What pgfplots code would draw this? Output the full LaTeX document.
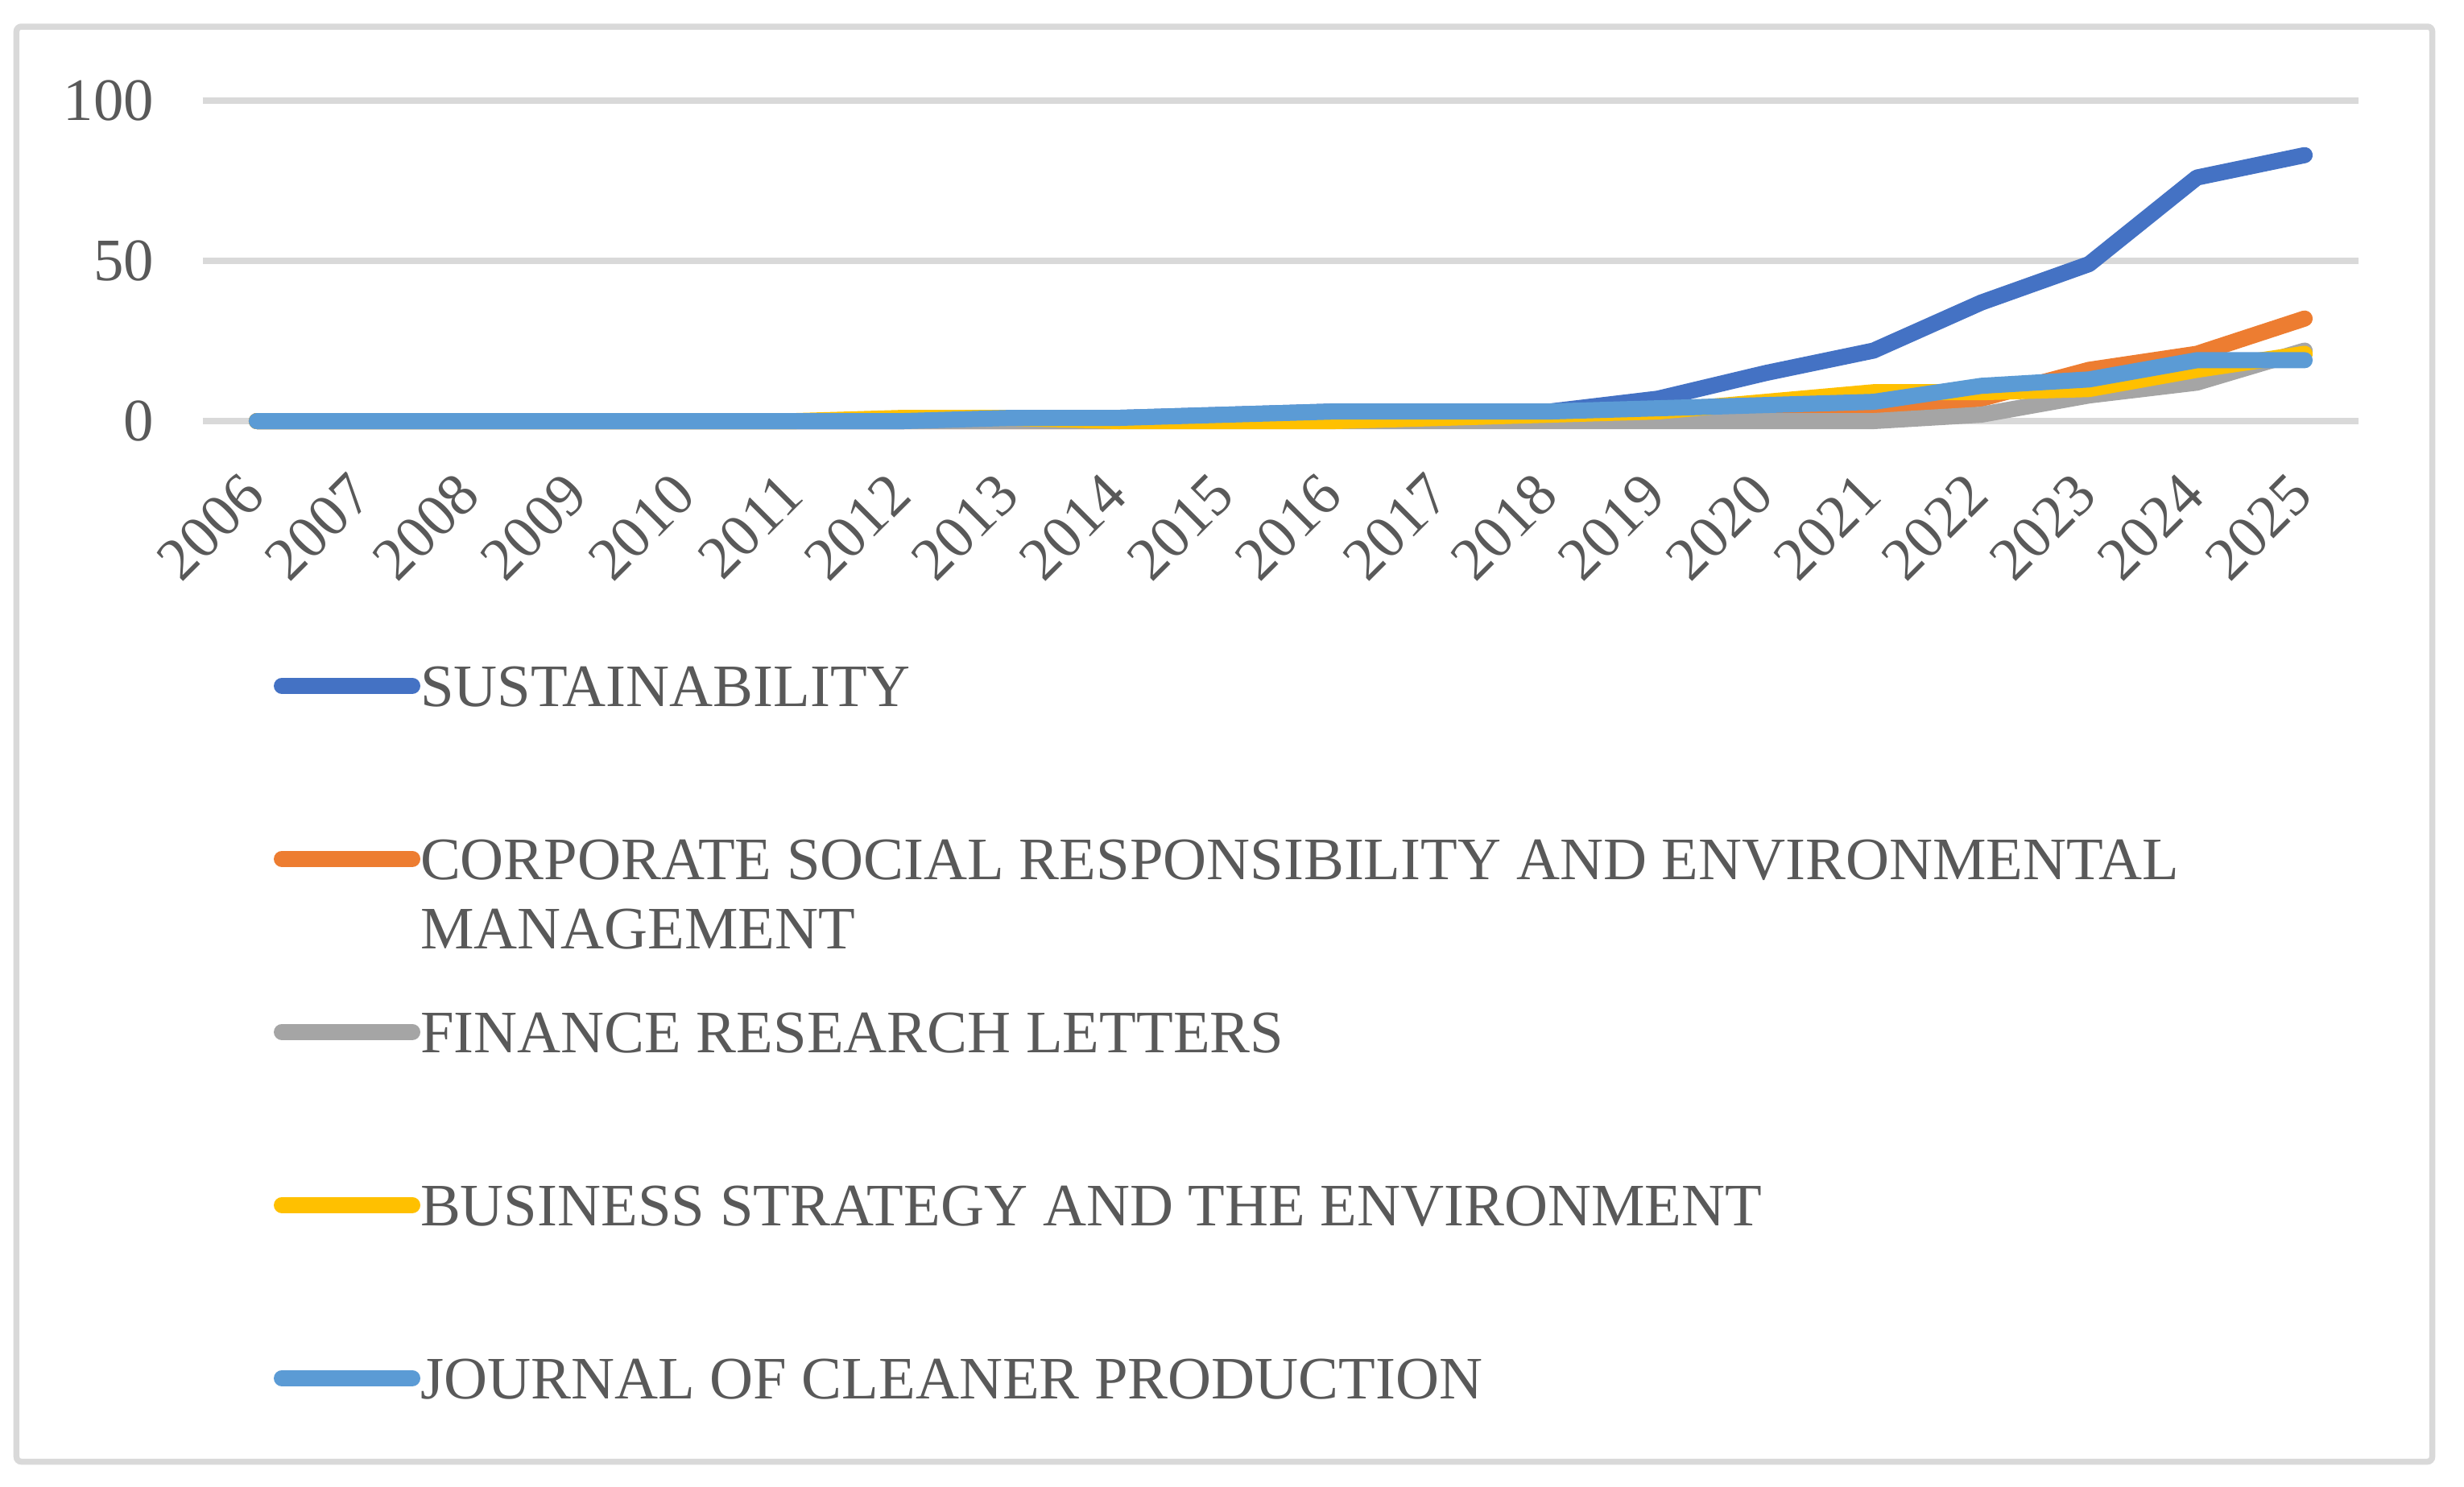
\documentclass[border=0pt]{standalone}
\usepackage{pgfplots}
\usepackage{pgfplotstable}
\pgfplotsset{compat=1.18}
\usepackage{fontspec}
\setmainfont{Liberation Serif}
\definecolor{cS}{HTML}{4472C4}
\definecolor{cCSR}{HTML}{ED7D31}
\definecolor{cFRL}{HTML}{A5A5A5}
\definecolor{cBSE}{HTML}{FFC000}
\definecolor{cJCP}{HTML}{5B9BD5}
\definecolor{cGrid}{HTML}{D9D9D9}
\definecolor{cText}{HTML}{595959}
\pgfplotstableread{
x  S   CSR FRL BSE JCP
0  0   0   0   0   0
1  0   0   0   0   0
2  0   0   0   0   0
3  0   0   0   0   0
4  0   0   0   0   0
5  0   0   0   0   0
6  0   0   0   1   0
7  1   0   0   1   1
8  1   0   0   0   1
9  2   1   0   0   2
10 3   1   0   0   3
11 3   1   0   1   3
12 3   2   0   2   3
13 7   2   0   3   4
14 15  3   0   6   5
15 22  4   0   9   6
16 37  7   2   9   11
17 49  16  8   10  13
18 76  21  12  16  19
19 83  32  22  21  19
}\data
\begin{document}
\begin{tikzpicture}
\path[use as bounding box] (-63pt,-330.75pt) rectangle (702pt,130.75pt);
\begin{axis}[
  scale only axis, width=669.25pt, height=99.5pt,
  xmin=-0.5, xmax=19.5, ymin=0, ymax=100,
  xtick={0,...,19},
  xticklabels={2006,2007,2008,2009,2010,2011,2012,2013,2014,2015,2016,2017,2018,2019,2020,2021,2022,2023,2024,2025},
  ytick={0,50,100},
  axis line style={draw=none},
  major tick length=0pt,
  ymajorgrids, grid style={line width=2pt, cGrid},
  tick label style={font=\fontsize{18.7}{21.5}\selectfont, text=cText, inner sep=0pt},
  /pgf/number format/assume math mode=true,
  yticklabel style={anchor=east, xshift=-15pt},
  xticklabel style={xshift=-1pt, yshift=-19.5pt, rotate=45, anchor=east},
  legend style={at={(0.03288,-0.68844)}, anchor=north west, draw=none, fill=none,
     inner sep=0pt, outer sep=0pt, row sep=0pt, column sep=0pt,
     font=\fontsize{18.7}{21.5}\selectfont, text=cText,
     cells={anchor=base west},
     nodes={inner sep=0pt, text height=20pt, text depth=33.75pt}},
  legend image code/.code={
     \draw[#1, line width=4.9pt, line cap=round] (2.45pt,6.3pt) -- (33pt,6.3pt);
     \path (0pt,6.3pt) -- (40.5pt,6.3pt);},
  every axis plot/.append style={line width=5pt, line join=round, line cap=round, no markers},
  clip=false,
]
\addplot[cS]   table[x=x, y=S]   {\data};
\addlegendentry{SUSTAINABILITY}
\addplot[cCSR] table[x=x, y=CSR] {\data};
\addlegendentry{\begin{tabular}[t]{@{}l@{}}CORPORATE SOCIAL RESPONSIBILITY AND ENVIRONMENTAL\\MANAGEMENT\end{tabular}}
\addplot[cFRL] table[x=x, y=FRL] {\data};
\addlegendentry{FINANCE RESEARCH LETTERS}
\addplot[cBSE] table[x=x, y=BSE] {\data};
\addlegendentry{BUSINESS STRATEGY AND THE ENVIRONMENT}
\addplot[cJCP] table[x=x, y=JCP] {\data};
\addlegendentry{JOURNAL OF CLEANER PRODUCTION}
\end{axis}
\draw[cGrid, line width=1.875pt, rounded corners=1.5pt] (-57.875pt,-323.125pt) rectangle (692.125pt,122.5pt);
\end{tikzpicture}
\end{document}
